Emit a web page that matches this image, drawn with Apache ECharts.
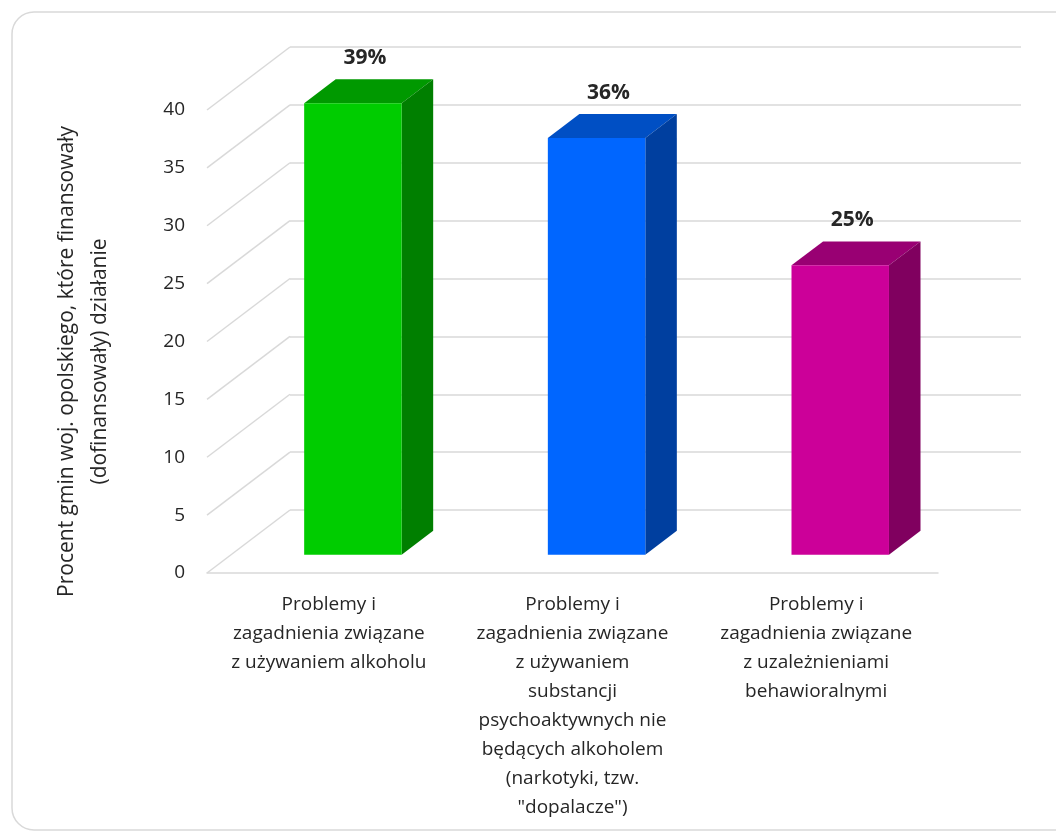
<!DOCTYPE html>
<html>
<head>
<meta charset="utf-8">
<script src="https://cdn.jsdelivr.net/npm/echarts@6/dist/echarts.min.js"></script>
<style>
  html, body { margin: 0; padding: 0; background: #ffffff; }
  #chart { width: 1056px; height: 836px; }
</style>
</head>
<body>
<div id="chart"></div>
<script>
// ---- data ----
var categories = [
  'Problemy i\nzagadnienia związane\nz używaniem alkoholu',
  'Problemy i\nzagadnienia związane\nz używaniem\nsubstancji\npsychoaktywnych nie\nbędących alkoholem\n(narkotyki, tzw.\n"dopalacze")',
  'Problemy i\nzagadnienia związane\nz uzależnieniami\nbehawioralnymi'
];
var values = [39, 36, 25];
var yTicks = [0, 5, 10, 15, 20, 25, 30, 35, 40];
var yAxisTitle = 'Procent gmin woj. opolskiego, które finansowały\n(dofinansowały) działanie';

var frontColors = ['#00cc00', '#0066ff', '#cc0099'];
var topColors   = ['#009900', '#004fc4', '#990073'];
var sideColors  = ['#007f00', '#003f9f', '#80005f'];

var FONT = '"Open Sans", sans-serif';
// 3D depth (pixels) of the whole floor and of the bar placement within it
var DEPTH_X = 83, DEPTH_Y = -63;
var BAR_OFF = 0.29, BAR_DEPTH = 0.38;

var chart = echarts.init(document.getElementById('chart'), null, { renderer: 'canvas' });

var option = {
  backgroundColor: '#ffffff',
  animation: false,
  graphic: [{
    type: 'rect',
    shape: { x: 12, y: 12, width: 1100, height: 818, r: 22 },
    style: { fill: 'none', stroke: '#d9d9d9', lineWidth: 1.5 },
    silent: true, z: -10
  }],
  grid: [
    { left: 207, right: 118, top: 110, bottom: 263 },
    { left: 290, right: 35, top: 47, bottom: 326 }
  ],
  xAxis: [
    {
      gridIndex: 0, type: 'category', data: categories,
      axisLine: { show: true, lineStyle: { color: '#d9d9d9', width: 1.5 } },
      axisTick: { show: false },
      splitLine: { show: false },
      axisLabel: {
        interval: 0, margin: 17, color: '#262626', fontFamily: FONT,
        fontSize: 19, lineHeight: 29
      }
    },
    { gridIndex: 1, type: 'value', show: false, min: 0, max: 1 }
  ],
  yAxis: [
    {
      gridIndex: 0, type: 'value', min: 0, max: 40, interval: 5,
      axisLine: { show: false }, axisTick: { show: false },
      splitLine: { show: false },
      axisLabel: { margin: 22, color: '#262626', fontFamily: FONT, fontSize: 19 },
      name: yAxisTitle, nameLocation: 'middle', nameRotate: 90, nameGap: 90,
      nameTextStyle: { color: '#262626', fontFamily: FONT, fontSize: 21, lineHeight: 33,
                       padding: [0, 40, 0, 0] }
    },
    {
      gridIndex: 1, type: 'value', min: 0, max: 40, interval: 5,
      axisLine: { show: false }, axisTick: { show: false },
      axisLabel: { show: false },
      splitLine: { show: true, lineStyle: { color: '#d9d9d9', width: 1.5 } }
    }
  ],
  series: [
    {
      type: 'custom', xAxisIndex: 0, yAxisIndex: 0, clip: false, z: 1, silent: true,
      data: yTicks.map(function (t) { return [0, t]; }),
      renderItem: function (params, api) {
        var y = api.coord([0, api.value(1)])[1];
        var x = params.coordSys.x;
        return {
          type: 'line',
          shape: { x1: x, y1: y, x2: x + DEPTH_X, y2: y + DEPTH_Y },
          style: { stroke: '#d9d9d9', lineWidth: 1.5 }
        };
      }
    },
    {
      type: 'custom', xAxisIndex: 0, yAxisIndex: 0, clip: false, z: 5, silent: true,
      data: values.map(function (v, i) { return [i, v]; }),
      renderItem: function (params, api) {
        var i = api.value(0), v = api.value(1);
        var base = api.coord([i, 0]);
        var top = api.coord([i, v]);
        var bw = api.size([1, 0])[0] * 0.40;
        var ox = DEPTH_X * BAR_OFF, oy = DEPTH_Y * BAR_OFF;
        var dx = DEPTH_X * BAR_DEPTH, dy = DEPTH_Y * BAR_DEPTH;
        var L = base[0] + ox - bw / 2, R = base[0] + ox + bw / 2;
        var B = base[1] + oy, T = top[1] + oy;
        return {
          type: 'group',
          children: [
            { type: 'polygon', shape: { points: [[L, T], [R, T], [R + dx, T + dy], [L + dx, T + dy]] },
              style: { fill: topColors[i] } },
            { type: 'polygon', shape: { points: [[R, T], [R + dx, T + dy], [R + dx, B + dy], [R, B]] },
              style: { fill: sideColors[i] } },
            { type: 'rect', shape: { x: L, y: T, width: R - L, height: B - T },
              style: { fill: frontColors[i] } },
            { type: 'text', x: (L + R) / 2 + 12, y: T - 45,
              style: { text: v + '%', fill: '#262626', font: 'bold 21px ' + FONT,
                       align: 'center', verticalAlign: 'middle' } }
          ]
        };
      }
    }
  ]
};
chart.setOption(option);
</script>
</body>
</html>
